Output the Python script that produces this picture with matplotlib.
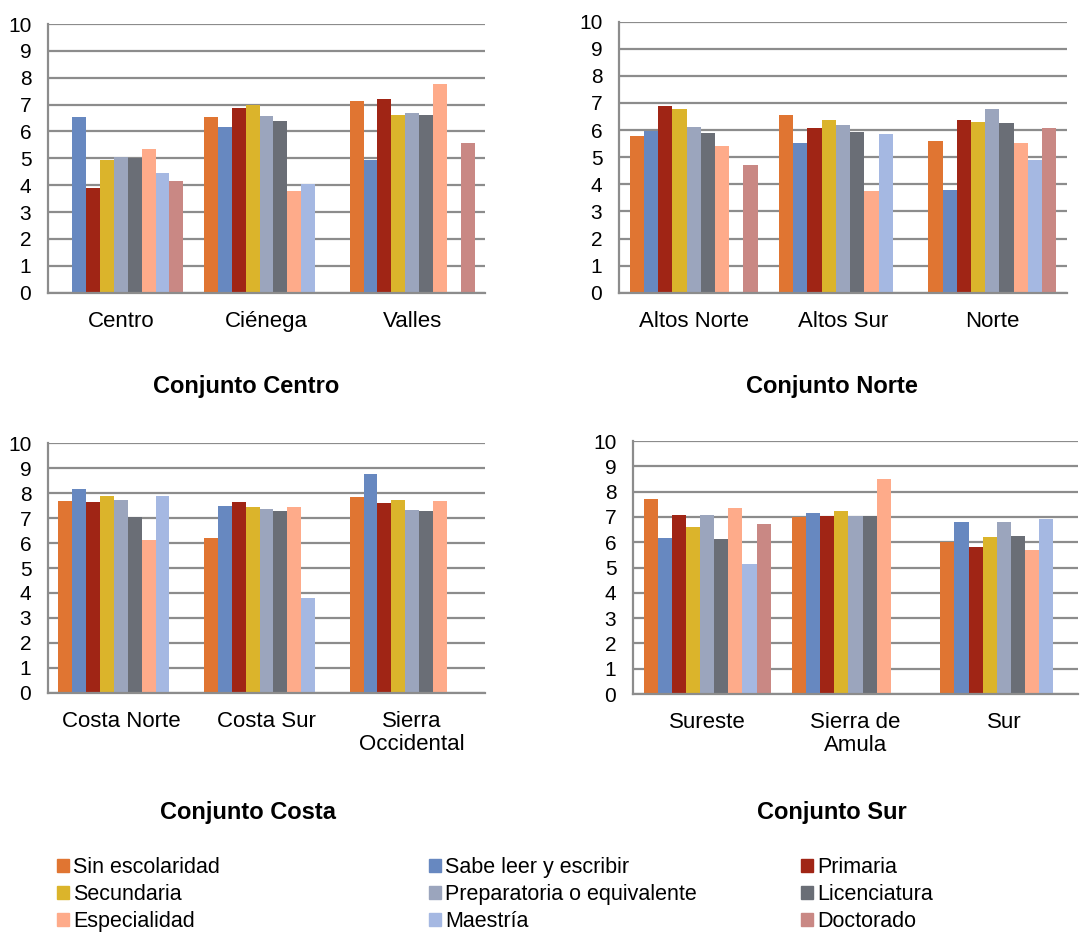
import numpy as np
import matplotlib.pyplot as plt

plt.rcParams['font.family'] = ['Liberation Sans', 'DejaVu Sans']

series = ["Sin escolaridad", "Sabe leer y escribir", "Primaria",
          "Secundaria", "Preparatoria o equivalente", "Licenciatura",
          "Especialidad", "Maestría", "Doctorado"]
colors = ["#E07532", "#6788C0", "#A02515", "#DBB42B", "#9BA5BD",
          "#6A6E76", "#FEAB8A", "#A5B8E2", "#C98884"]
nan = np.nan

# one row per region, columns follow `series`
centro_cats = ["Centro", "Ciénega", "Valles"]
centro_vals = [
    [nan, 6.53, 3.91, 4.94, 5.05, 5.01, 5.36, 4.45, 4.16],
    [6.53, 6.17, 6.89, 6.99, 6.59, 6.39, 3.78, 4.06, nan],
    [7.12, 4.94, 7.22, 6.63, 6.70, 6.60, 7.78, nan, 5.57],
]
norte_cats = ["Altos Norte", "Altos Sur", "Norte"]
norte_vals = [
    [5.77, 5.97, 6.88, 6.79, 6.13, 5.88, 5.42, nan, 4.72],
    [6.57, 5.51, 6.09, 6.36, 6.20, 5.94, 3.76, 5.85, nan],
    [5.61, 3.79, 6.37, 6.31, 6.78, 6.26, 5.53, 4.88, 6.08],
]
costa_cats = ["Costa Norte", "Costa Sur", "Sierra\nOccidental"]
costa_vals = [
    [7.69, 8.16, 7.63, 7.87, 7.74, 7.03, 6.14, 7.89, nan],
    [6.19, 7.49, 7.65, 7.45, 7.38, 7.30, 7.43, 3.78, nan],
    [7.85, 8.77, 7.62, 7.73, 7.34, 7.30, 7.67, nan, nan],
]
sur_cats = ["Sureste", "Sierra de\nAmula", "Sur"]
sur_vals = [
    [7.72, 6.18, 7.08, 6.61, 7.08, 6.11, 7.34, 5.14, 6.72],
    [7.00, 7.14, 7.03, 7.24, 7.04, 7.04, 8.50, nan, nan],
    [6.00, 6.80, 5.80, 6.21, 6.78, 6.24, 5.71, 6.92, nan],
]

W, H = 1085, 936
fig = plt.figure(figsize=(W / 100, H / 100), dpi=100)
grid_c = "#8C8C8C"


def panel(px, cats, vals, title, title_xy):
    left, right, bottom, top = px
    ax = fig.add_axes([left / W, 1 - bottom / H, (right - left) / W, (bottom - top) / H])
    vals = np.array(vals)
    bw = 1 / 10.5
    x = np.arange(len(cats)) + 0.5
    for i in range(len(series)):
        ax.bar(x + (i - 4) * bw, vals[:, i], width=bw, color=colors[i], zorder=3)
    ax.set_xlim(0, 3)
    ax.set_ylim(0, 10)
    ax.set_yticks(range(11))
    ax.set_xticks(x)
    ax.set_xticklabels(cats, fontsize=16, linespacing=1.15, va='top')
    ax.tick_params(axis='y', length=0, labelsize=15, pad=12)
    ax.tick_params(axis='x', length=0, pad=13)
    ax.grid(axis='y', color=grid_c, lw=1.6, zorder=0)
    for s in ['top', 'right']:
        ax.spines[s].set_visible(False)
    for s in ['left', 'bottom']:
        ax.spines[s].set_color(grid_c)
        ax.spines[s].set_linewidth(1.6)
        ax.spines[s].set_zorder(4)
    fig.text(title_xy[0] / W, 1 - title_xy[1] / H, title, ha='center', va='center',
             fontsize=17, fontweight='bold')
    return ax


panel((48, 485, 292.7, 24), centro_cats, centro_vals, "Conjunto Centro", (246, 386))
panel((619, 1067, 292.7, 21.7), norte_cats, norte_vals, "Conjunto Norte", (832, 386))
panel((48, 485, 692.7, 443.3), costa_cats, costa_vals, "Conjunto Costa", (248, 813))
panel((633, 1078, 694, 441), sur_cats, sur_vals, "Conjunto Sur", (832, 813))

# legend in three columns, filled row by row
handles = [plt.Rectangle((0, 0), 1, 1, color=c) for c in colors]
for col, xpx in enumerate([57, 429, 801]):
    idx = [col, col + 3, col + 6]
    fig.legend([handles[i] for i in idx], [series[i] for i in idx],
               loc='upper left', bbox_to_anchor=(xpx / W, 1 - 857 / H),
               frameon=False, fontsize=15.5, handlelength=0.55, handleheight=0.55,
               handletextpad=0.2, labelspacing=0.28, borderaxespad=0, borderpad=0)

fig.savefig("out.png", dpi=100)
